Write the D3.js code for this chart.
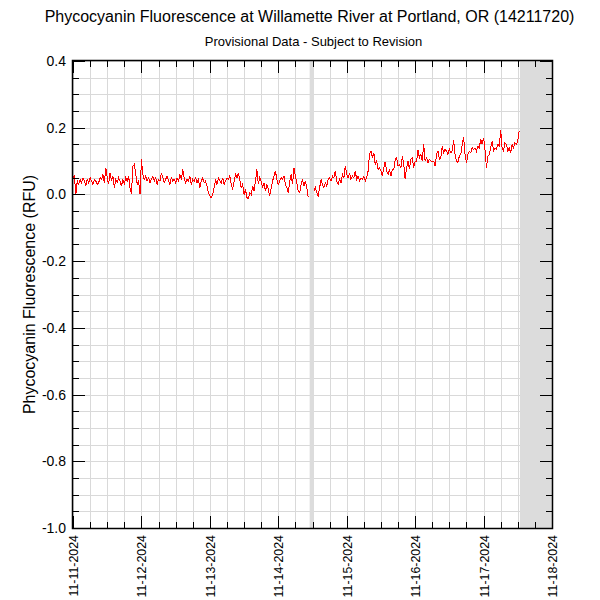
<!DOCTYPE html>
<html>
<head>
<meta charset="utf-8">
<script src="https://cdn.jsdelivr.net/npm/d3@7"></script>
<style>
  html, body { margin: 0; padding: 0; background: #fff; }
  svg { display: block; font-family: "Liberation Sans", Arial, sans-serif; }
</style>
</head>
<body>
<svg id="chart" width="600" height="600"></svg>
<script>
// ---- Data (30-minute readings, RFU), one array per day (UTC day starting 00:00) ----
const title = "Phycocyanin Fluorescence at Willamette River at Portland, OR (14211720)";
const subtitle = "Provisional Data - Subject to Revision";
const yTitle = "Phycocyanin Fluorescence (RFU)";

const dayStarts = ["2024-11-11", "2024-11-12", "2024-11-13", "2024-11-14", "2024-11-15", "2024-11-16", "2024-11-17"];
const xTickLabels = ["11-11-2024", "11-12-2024", "11-13-2024", "11-14-2024", "11-15-2024", "11-16-2024", "11-17-2024", "11-18-2024"];
const yTickValues = [-1.0, -0.8, -0.6, -0.4, -0.2, 0.0, 0.2, 0.4];
const yTickLabels = ["-1.0", "-0.8", "-0.6", "-0.4", "-0.2", "0.0", "0.2", "0.4"];

const day1 = [0.05, 0.055, 0.0, 0.04, 0.03, 0.045, 0.035, 0.05, 0.04, 0.025,
  0.045, 0.035, 0.05, 0.04, 0.03, 0.045, 0.04, 0.03, 0.035, 0.05,
  0.045, 0.06, 0.035, 0.08, 0.05, 0.03, 0.065, 0.04, 0.055, 0.02,
  0.045, 0.035, 0.05, 0.04, 0.025, 0.045, 0.03, 0.05, 0.04, 0.055,
  0.02, 0.0, 0.085, 0.09, 0.06, 0.03, 0.04, 0.0];
const day2 = [0.105, 0.06, 0.045, 0.055, 0.04, 0.05, 0.035, 0.045, 0.055, 0.04,
  0.05, 0.03, 0.045, 0.04, 0.065, 0.05, 0.035, 0.045, 0.055, 0.04,
  0.03, 0.05, 0.04, 0.045, 0.035, 0.05, 0.04, 0.06, 0.045, 0.075,
  0.05, 0.035, 0.045, 0.04, 0.055, 0.03, 0.045, 0.04, 0.05, 0.035,
  0.045, 0.02, 0.04, 0.05, 0.035, 0.04, 0.025, 0.005];
const day3 = [-0.005, -0.01, 0.0, 0.02, 0.045, 0.03, 0.05, 0.04, 0.035, 0.05,
  0.03, 0.04, 0.05, 0.045, 0.055, 0.03, 0.015, 0.04, 0.06, 0.05,
  0.065, 0.045, 0.02, 0.03, 0.0, 0.015, -0.01, -0.012, 0.005, 0.0,
  0.025, 0.01, 0.04, 0.075, 0.03, 0.05, 0.04, 0.02, 0.035, 0.01,
  0.03, 0.015, -0.005, 0.02, 0.04, 0.055, 0.07, 0.045];
const day4 = [0.03, 0.04, 0.05, 0.045, 0.055, 0.03, 0.02, 0.005, 0.04, 0.06,
  0.03, 0.08, 0.055, 0.035, 0.01, 0.005, 0.03, 0.045, 0.025, 0.04,
  0.02, -0.008, null, null, null, 0.01, 0.02, 0.005, -0.005, 0.02,
  0.045, 0.03, 0.02, 0.035, 0.025, 0.045, 0.05, 0.04, 0.055, 0.05,
  0.07, 0.04, 0.03, 0.045, 0.035, 0.06, 0.05, 0.085];
const day5 = [0.06, 0.05, 0.065, 0.045, 0.055, 0.05, 0.07, 0.045, 0.055, 0.04,
  0.05, 0.045, 0.055, 0.04, 0.05, 0.07, 0.12, 0.13, 0.11, 0.125,
  0.09, 0.1, 0.075, 0.08, 0.07, 0.055, 0.08, 0.098, 0.07, 0.06,
  0.075, 0.055, 0.075, 0.075, 0.105, 0.11, 0.085, 0.09, 0.08, 0.115,
  0.09, 0.045, 0.08, 0.1, 0.075, 0.105, 0.11, 0.08];
const day6 = [0.1, 0.1, 0.133, 0.11, 0.12, 0.1, 0.151, 0.1, 0.11, 0.095,
  0.105, 0.1, 0.1, 0.1, 0.085, 0.12, 0.13, 0.105, 0.11, 0.145,
  0.125, 0.135, 0.13, 0.12, 0.135, 0.125, 0.13, 0.163, 0.12, 0.1,
  0.095, 0.115, 0.12, 0.15, 0.171, 0.12, 0.095, 0.12, 0.13, 0.125,
  0.14, 0.135, 0.14, 0.13, 0.145, 0.14, 0.165, 0.15];
const day7 = [0.17, 0.135, 0.08, 0.115, 0.12, 0.14, 0.16, 0.13, 0.14, 0.135,
  0.15, 0.145, 0.193, 0.14, 0.13, 0.155, 0.15, 0.13, 0.14, 0.125,
  0.15, 0.14, 0.155, 0.15, 0.16, 0.19];

// shaded (no-data / provisional) periods
const bandStarts = ["2024-11-14T11:00Z", "2024-11-17T12:45Z"];
const bandEnds   = ["2024-11-14T12:30Z", "2024-11-18T00:00Z"];

// ---- Build series ----
const days = [day1, day2, day3, day4, day5, day6, day7];
const points = [];
days.forEach((vals, di) => {
  const start = new Date(dayStarts[di] + "T00:00:00Z");
  vals.forEach((v, i) => {
    points.push({ t: d3.utcMinute.offset(start, i * 30), v: v });
  });
});

// ---- Layout ----
const svg = d3.select("#chart");
const L = 73, R = 552, T = 61, B = 528;

const x = d3.scaleUtc()
  .domain([new Date("2024-11-11T00:00:00Z"), new Date("2024-11-18T00:00:00Z")])
  .range([L, R]);
const y = d3.scaleLinear().domain([-1.0, 0.4]).range([B, T]);

const gridColor = "#d9d9d9";

// grid
const vGrid = d3.utcHour.every(6).range(x.domain()[0], d3.utcMinute.offset(x.domain()[1], 1));
svg.append("g").selectAll("line").data(vGrid).join("line")
  .attr("x1", d => Math.round(x(d)) + 0.5).attr("x2", d => Math.round(x(d)) + 0.5)
  .attr("y1", T).attr("y2", B)
  .attr("stroke", gridColor).attr("stroke-width", 1);
const hGridVals = d3.range(-20, 9).map(i => i * 0.05);
svg.append("g").selectAll("line").data(hGridVals).join("line")
  .attr("x1", L).attr("x2", R)
  .attr("y1", d => Math.round(y(d)) + 0.5).attr("y2", d => Math.round(y(d)) + 0.5)
  .attr("stroke", gridColor).attr("stroke-width", 1);

// bands
svg.append("g").selectAll("rect").data(bandStarts.map((s, i) => [new Date(s), new Date(bandEnds[i])])).join("rect")
  .attr("x", d => x(d[0])).attr("width", d => x(d[1]) - x(d[0]))
  .attr("y", T).attr("height", B - T)
  .attr("fill", "#dcdcdc");

// data line
const line = d3.line()
  .defined(d => d.v !== null)
  .x(d => x(d.t)).y(d => y(d.v));
svg.append("path").datum(points)
  .attr("d", line)
  .attr("fill", "none").attr("stroke", "#ff0000").attr("stroke-width", 1)
  .attr("stroke-linejoin", "miter")
  .attr("shape-rendering", "crispEdges");

// axes (ticks pointing inward on all four sides)
function styleAxis(g) {
  g.select(".domain").remove();
  g.selectAll(".tick line").attr("stroke", "#000").attr("shape-rendering", "crispEdges");
}
const dayTicks = d3.utcDay.every(1).range(x.domain()[0], d3.utcMinute.offset(x.domain()[1], 1));
const minorX = vGrid;
const minorY = hGridVals;

// bottom
svg.append("g").attr("transform", `translate(0,${B})`)
  .call(d3.axisBottom(x).tickValues(minorX).tickSize(-6).tickFormat(""))
  .call(styleAxis);
const bx = svg.append("g").attr("transform", `translate(0,${B})`)
  .call(d3.axisBottom(x).tickValues(dayTicks).tickSize(-12).tickFormat((d, i) => xTickLabels[i]))
  .call(styleAxis);
bx.selectAll(".tick text")
  .attr("font-size", 12.4).attr("fill", "#000")
  .attr("text-anchor", "end")
  .attr("transform", "rotate(-90)")
  .attr("x", -7).attr("y", 0).attr("dy", "0.36em");

// top
svg.append("g").attr("transform", `translate(0,${T})`)
  .call(d3.axisTop(x).tickValues(minorX).tickSize(-6).tickFormat(""))
  .call(styleAxis);
svg.append("g").attr("transform", `translate(0,${T})`)
  .call(d3.axisTop(x).tickValues(dayTicks).tickSize(-12).tickFormat(""))
  .call(styleAxis);

// left
svg.append("g").attr("transform", `translate(${L},0)`)
  .call(d3.axisLeft(y).tickValues(minorY).tickSize(-6).tickFormat(""))
  .call(styleAxis);
const ly = svg.append("g").attr("transform", `translate(${L},0)`)
  .call(d3.axisLeft(y).tickValues(yTickValues).tickSize(-12).tickPadding(7)
    .tickFormat((d, i) => yTickLabels[i]))
  .call(styleAxis);
ly.selectAll(".tick text").attr("font-size", 14).attr("fill", "#000");

// right
svg.append("g").attr("transform", `translate(${R},0)`)
  .call(d3.axisRight(y).tickValues(minorY).tickSize(-6).tickFormat(""))
  .call(styleAxis);
svg.append("g").attr("transform", `translate(${R},0)`)
  .call(d3.axisRight(y).tickValues(yTickValues).tickSize(-12).tickFormat(""))
  .call(styleAxis);

// frame
svg.append("rect")
  .attr("x", L - 0.5).attr("y", T - 0.5).attr("width", R - L + 1).attr("height", B - T + 1)
  .attr("fill", "none").attr("stroke", "#000").attr("stroke-width", 1.5);

// titles
svg.append("text").attr("x", (L + R) / 2 - 3).attr("y", 22)
  .attr("text-anchor", "middle").attr("font-size", 16).attr("fill", "#000")
  .text(title);
svg.append("text").attr("x", (L + R) / 2 + 1).attr("y", 46)
  .attr("text-anchor", "middle").attr("font-size", 13).attr("fill", "#000")
  .text(subtitle);
svg.append("text")
  .attr("transform", `translate(35,${(T + B) / 2}) rotate(-90)`)
  .attr("text-anchor", "middle").attr("font-size", 16).attr("fill", "#000")
  .text(yTitle);
</script>
</body>
</html>
